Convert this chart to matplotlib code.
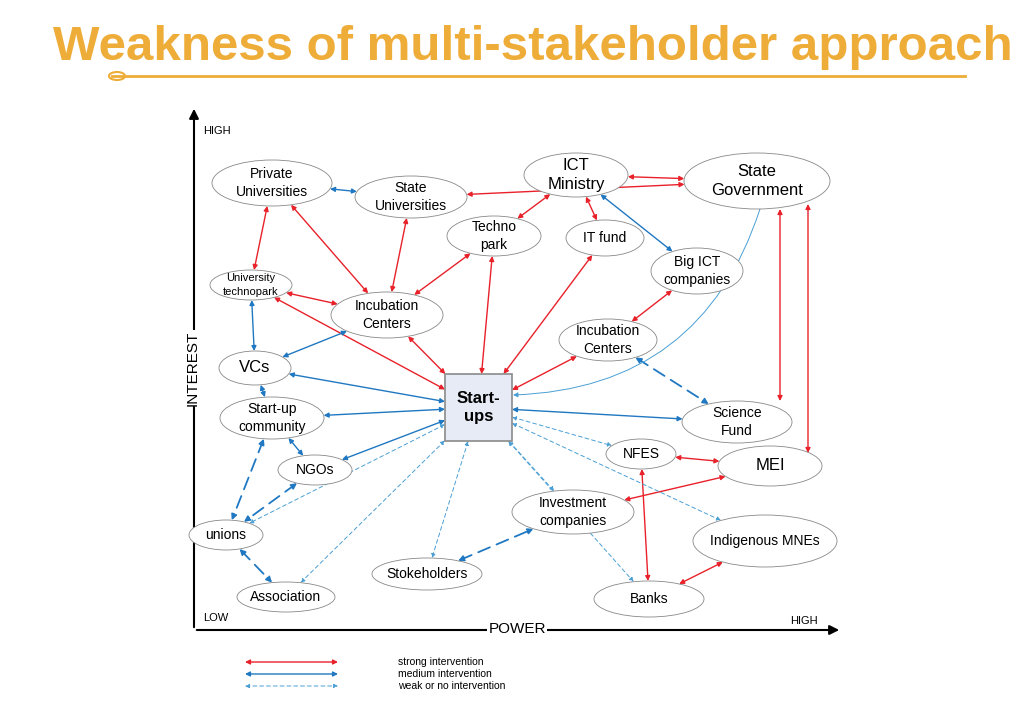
import numpy as np
import matplotlib.pyplot as plt
from matplotlib.patches import Ellipse, Rectangle, FancyArrowPatch

plt.rcParams['font.family'] = 'Liberation Sans'

# stakeholder nodes: name, label, center x, center y, width, height, font size
node_names = ['priv_uni', 'state_uni', 'ict_min', 'state_gov', 'techno', 'it_fund', 'big_ict',
              'uni_tech', 'inc_left', 'inc_right', 'vcs', 'community', 'sci_fund', 'nfes', 'mei',
              'ngos', 'invest', 'unions', 'mnes', 'stoke', 'assoc', 'banks']
node_labels = ['Private\nUniversities', 'State\nUniversities', 'ICT\nMinistry', 'State\nGovernment',
               'Techno\npark', 'IT fund', 'Big ICT\ncompanies', 'University\ntechnopark',
               'Incubation\nCenters', 'Incubation\nCenters', 'VCs', 'Start-up\ncommunity',
               'Science\nFund', 'NFES', 'MEI', 'NGOs', 'Investment\ncompanies', 'unions',
               'Indigenous MNEs', 'Stokeholders', 'Association', 'Banks']
node_x = [272, 411, 576, 757, 494, 605, 697, 251, 387, 608, 255, 272, 737, 641, 770,
          315, 573, 226, 765, 427, 286, 649]
node_y = [183, 197, 175, 181, 236, 238, 271, 285, 315, 340, 368, 418, 422, 454, 466,
          470, 512, 535, 541, 574, 597, 599]
node_w = [120, 112, 104, 146, 94, 78, 92, 82, 112, 98, 72, 104, 110, 70, 104,
          74, 122, 74, 144, 110, 98, 110]
node_h = [46, 42, 44, 56, 40, 36, 46, 30, 46, 42, 34, 42, 42, 30, 40,
          30, 44, 30, 52, 32, 30, 36]
node_fs = [10, 10, 12, 12, 10, 10, 10, 8, 10, 10, 12, 10, 10, 10, 12,
           10, 10, 10, 10, 10, 10, 10]

# relations: (from, to, kind) strong / medium / mediumdash / weak
edges = [
    ('ict_min', 'state_gov', 'strong'), ('state_uni', 'state_gov', 'strong'),
    ('ict_min', 'techno', 'strong'), ('ict_min', 'it_fund', 'strong'),
    ('priv_uni', 'uni_tech', 'strong'), ('priv_uni', 'inc_left', 'strong'),
    ('state_uni', 'inc_left', 'strong'), ('techno', 'inc_left', 'strong'),
    ('techno', 'startups', 'strong'), ('it_fund', 'startups', 'strong'),
    ('uni_tech', 'inc_left', 'strong'), ('uni_tech', 'startups', 'strong'),
    ('inc_left', 'startups', 'strong'), ('inc_right', 'startups', 'strong'),
    ('big_ict', 'inc_right', 'strong'), ('nfes', 'mei', 'strong'),
    ('mei', 'invest', 'strong'), ('nfes', 'banks', 'strong'), ('banks', 'mnes', 'strong'),
    ('priv_uni', 'state_uni', 'medium'), ('ict_min', 'big_ict', 'medium'),
    ('uni_tech', 'vcs', 'medium'), ('vcs', 'inc_left', 'medium'),
    ('vcs', 'community', 'medium'), ('vcs', 'startups', 'medium'),
    ('community', 'startups', 'medium'), ('community', 'ngos', 'medium'),
    ('ngos', 'startups', 'medium'), ('startups', 'sci_fund', 'medium'),
    ('stoke', 'invest', 'mediumdash'), ('unions', 'assoc', 'mediumdash'),
    ('community', 'unions', 'mediumdash'), ('ngos', 'unions', 'mediumdash'),
    ('inc_right', 'sci_fund', 'mediumdash'),
    ('startups', 'unions', 'weak'), ('startups', 'assoc', 'weak'),
    ('startups', 'stoke', 'weak'), ('startups', 'invest', 'weak'),
    ('startups', 'nfes', 'weak'), ('startups', 'banks', 'weak'),
    ('startups', 'mnes', 'weak'),
]

legend_labels = ['strong intervention', 'medium intervention', 'weak or no intervention']

RED = '#e8212a'
BLUE = '#1f78c1'
LBLUE = '#4a9fd4'
ORANGE = '#eeac38'
styles = {
    'strong': dict(color=RED, lw=1.0, ls='-', ms=7),
    'medium': dict(color=BLUE, lw=1.0, ls='-', ms=7),
    'mediumdash': dict(color=BLUE, lw=1.3, ls=(0, (7, 4)), ms=8),
    'weak': dict(color=LBLUE, lw=0.7, ls=(0, (4, 3)), ms=6),
}

box_x0, box_y0, box_x1, box_y1 = 445, 374, 512, 441
geo = {n: (x, y, w, h) for n, x, y, w, h in zip(node_names, node_x, node_y, node_w, node_h)}


def boundary(name, tx, ty):
    if name == 'startups':
        cx, cy = (box_x0 + box_x1) / 2, (box_y0 + box_y1) / 2
        dx, dy = tx - cx, ty - cy
        s = min((box_x1 - box_x0) / 2 / max(abs(dx), 1e-9), (box_y1 - box_y0) / 2 / max(abs(dy), 1e-9))
        return cx + dx * s, cy + dy * s
    cx, cy, w, h = geo[name]
    dx, dy = tx - cx, ty - cy
    s = 1 / np.sqrt((dx / (w / 2)) ** 2 + (dy / (h / 2)) ** 2)
    return cx + dx * s, cy + dy * s


def center(name):
    if name == 'startups':
        return (box_x0 + box_x1) / 2, (box_y0 + box_y1) / 2
    return geo[name][:2]


def arrow(ax, p, q, kind, conn='arc3'):
    st = styles[kind]
    ax.add_patch(FancyArrowPatch(p, q, arrowstyle='<|-|>', mutation_scale=st['ms'],
                                 color=st['color'], lw=st['lw'], linestyle=st['ls'],
                                 shrinkA=0, shrinkB=0, connectionstyle=conn, zorder=2))


def main():
    fig = plt.figure(figsize=(10.24, 7.23), dpi=100)
    ax = fig.add_axes([0, 0, 1, 1])
    ax.set_xlim(0, 1024)
    ax.set_ylim(723, 0)
    ax.axis('off')

    # title
    ax.text(533, 47, 'Weakness of multi-stakeholder approach', color=ORANGE, fontsize=35.5,
            fontweight='bold', ha='center', va='center')
    ax.plot([112, 965], [76, 76], color=ORANGE, lw=2)
    ax.add_patch(Ellipse((117, 76), 16, 8, fill=False, ec=ORANGE, lw=1.5))

    # axes of the diagram
    ax.annotate('', xy=(194, 106), xytext=(194, 630),
                arrowprops=dict(arrowstyle='-|>', color='black', lw=1.5, mutation_scale=14))
    ax.annotate('', xy=(842, 630), xytext=(194, 630),
                arrowprops=dict(arrowstyle='-|>', color='black', lw=1.5, mutation_scale=14))
    ax.text(203, 131, 'HIGH', fontsize=8, va='center')
    ax.text(203, 618, 'LOW', fontsize=8, va='center')
    ax.text(790, 621, 'HIGH', fontsize=8, va='center')
    ax.text(517, 629, 'POWER', fontsize=11, ha='center', va='center',
            bbox=dict(fc='white', ec='none', pad=0.5))
    ax.text(193, 368, 'INTEREST', fontsize=11, ha='center', va='center', rotation=90,
            bbox=dict(fc='white', ec='none', pad=0.5))

    # edges
    for a, b, kind in edges:
        ca, cb = center(a), center(b)
        arrow(ax, boundary(a, *cb), boundary(b, *ca), kind)
    # state government links with vertical lines and curve
    arrow(ax, (780, 209), (780, 401), 'strong')
    arrow(ax, (808, 204), (808, 453), 'strong')
    ax.add_patch(FancyArrowPatch((760, 209), (513, 395), arrowstyle='-|>', mutation_scale=7,
                                 color=LBLUE, lw=0.7, shrinkA=0, shrinkB=0,
                                 connectionstyle='arc3,rad=-0.35', zorder=2))

    # nodes
    for n, lab, x, y, w, h, fs in zip(node_names, node_labels, node_x, node_y, node_w, node_h, node_fs):
        ax.add_patch(Ellipse((x, y), w, h, fc='white', ec='#888888', lw=0.6, zorder=3))
        ax.text(x, y, lab, fontsize=fs, ha='center', va='center', linespacing=1.4, zorder=4)
    ax.add_patch(Rectangle((box_x0, box_y0), box_x1 - box_x0, box_y1 - box_y0,
                           fc='#e6ebf5', ec='#8a8a8a', lw=1.2, zorder=3))
    ax.text((box_x0 + box_x1) / 2, (box_y0 + box_y1) / 2, 'Start-\nups', fontsize=12,
            fontweight='bold', ha='center', va='center', linespacing=1.3, zorder=4)

    # legend
    for i, (kind, lab) in enumerate(zip(['strong', 'medium', 'weak'], legend_labels)):
        y = 662 + 12 * i
        arrow(ax, (245, y), (338, y), kind)
        ax.text(398, y, lab, fontsize=7.5, va='center')

    fig.savefig('out.png', dpi=100)


if __name__ == "__main__":
    main()
